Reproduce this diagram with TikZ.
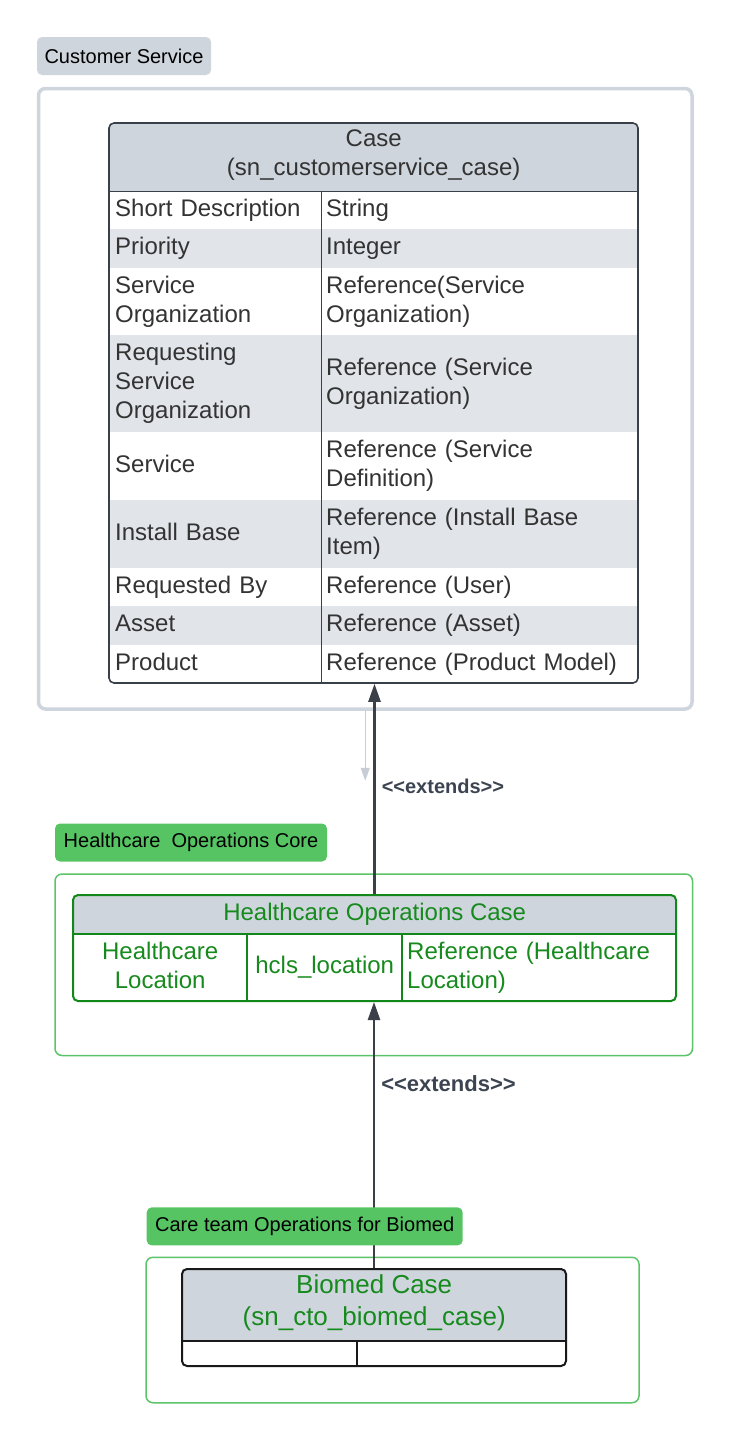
\documentclass[tikz,border=0pt]{standalone}
\usepackage{fontspec}
\setmainfont{Liberation Sans}
\usetikzlibrary{arrows.meta, calc}
\usepackage{xcolor}
\definecolor{csGray}{HTML}{CFD5DC}
\definecolor{hdrGray}{HTML}{CFD5DD}
\definecolor{rowGray}{HTML}{E1E4E9}
\definecolor{tblDark}{HTML}{3A4049}
\definecolor{textDark}{HTML}{333333}
\definecolor{coreGreen}{HTML}{57C464}
\definecolor{boxGreen}{HTML}{5CC468}
\definecolor{textGreen}{HTML}{178A1E}
\definecolor{tblGreen}{HTML}{12871A}
\definecolor{arrowGray}{HTML}{3A3F4A}
\definecolor{stereoGray}{HTML}{3D4451}
\definecolor{stubGray}{HTML}{C7CDD5}
\newcommand{\tabfont}{\fontsize{24}{29}\selectfont}
\newcommand{\lblfont}{\fontsize{20}{24}\selectfont}
\newcommand{\bigfont}{\fontsize{26}{32}\selectfont}

\begin{document}
\begin{tikzpicture}[
    x=1pt, y=-1pt,
    grouplabel/.style={
        rounded corners=5pt, minimum height=38pt, inner sep=0pt,
        font=\lblfont, text=black
    },
    groupbox/.style={draw, rounded corners=7pt, fill=white, inner sep=0pt},
    tblframe/.style={draw, rounded corners=5pt, line width=1.6pt, inner sep=0pt},
    strutted/.style={execute at begin node=\strut, execute at end node=\strut},
    hdrcell/.style={anchor=north west, fill=hdrGray, inner sep=0pt, align=center, font=\tabfont, strutted},
    cell/.style={anchor=north west, inner ysep=0pt, font=\tabfont, text=textDark, strutted},
    lcell/.style={cell, text width=200pt, inner xsep=6pt, align=left},
    rcell/.style={cell, text width=307pt, inner xsep=5pt, align=left},
    emptycell/.style={anchor=north west, inner sep=0pt},
    shaded/.style={fill=rowGray},
    extends/.style={arrowGray, line width=2.5pt, -{Triangle[length=18pt, width=12pt]}},
    stub/.style={stubGray, line width=1.2pt, -{Triangle[length=13pt, width=9pt]}},
    stereo/.style={anchor=west, inner xsep=6pt, font=\lblfont\bfseries, text=stereoGray},
]
\useasboundingbox (0,0) rectangle (733,1440);

% ============================================
% Customer Service
% ============================================
\node[grouplabel, fill=csGray, minimum width=174pt] (csLbl) at (124,56) {Customer Service};
\node[groupbox, draw=csGray, line width=3.5pt, minimum width=653.5pt, minimum height=620.5pt] (csBox) at (365.25,398.75) {};

\begin{scope}
\clip[rounded corners=5pt] (109,123) rectangle (638,683);
\node[hdrcell, text=textDark, minimum width=529pt, minimum height=68pt] (caseHdr) at (109,123) {Case\\(sn\_customerservice\_case)};
\node[lcell, minimum height=38pt] (sdK) at (109,191) {Short Description};
\node[rcell, minimum height=38pt] (sdV) at (321,191) {String};
\node[lcell, shaded, minimum height=39pt] (prK) at (109,229) {Priority};
\node[rcell, shaded, minimum height=39pt] (prV) at (321,229) {Integer};
\node[lcell, minimum height=67pt] (soK) at (109,268) {Service\\Organization};
\node[rcell, minimum height=67pt] (soV) at (321,268) {Reference(Service\\Organization)};
\node[lcell, shaded, minimum height=97pt] (rsoK) at (109,335) {Requesting\\Service\\Organization};
\node[rcell, shaded, minimum height=97pt] (rsoV) at (321,335) {Reference (Service\\Organization)};
\node[lcell, minimum height=68pt] (svK) at (109,432) {Service};
\node[rcell, minimum height=68pt] (svV) at (321,432) {Reference (Service\\Definition)};
\node[lcell, shaded, minimum height=68pt] (ibK) at (109,500) {Install Base};
\node[rcell, shaded, minimum height=68pt] (ibV) at (321,500) {Reference (Install Base\\Item)};
\node[lcell, minimum height=38pt] (rbK) at (109,568) {Requested By};
\node[rcell, minimum height=38pt] (rbV) at (321,568) {Reference (User)};
\node[lcell, shaded, minimum height=39pt] (asK) at (109,606) {Asset};
\node[rcell, shaded, minimum height=39pt] (asV) at (321,606) {Reference (Asset)};
\node[lcell, minimum height=38pt] (pdK) at (109,645) {Product};
\node[rcell, minimum height=38pt] (pdV) at (321,645) {Reference (Product Model)};
\end{scope}

\node[tblframe, draw=tblDark, minimum width=529pt, minimum height=560pt] (caseTbl) at (373.5,403) {};
\draw[tblDark, line width=1.6pt] (caseHdr.south west) -- (caseHdr.south east);
\draw[tblDark, line width=1.6pt] (sdK.north east) -- (pdK.south east);

% ============================================
% Healthcare Operations Core
% ============================================
\node[groupbox, draw=boxGreen, line width=1.5pt, minimum width=637.5pt, minimum height=181.5pt] (coreBox) at (373.75,964.75) {};
\node[grouplabel, fill=coreGreen, minimum width=272pt] (coreLbl) at (191,842.5) {Healthcare\ \ Operations Core};

\begin{scope}
\clip[rounded corners=5pt] (73,895) rectangle (676,1001);
\node[hdrcell, text=textGreen, minimum width=603pt, minimum height=39pt] (hocHdr) at (73,895) {Healthcare Operations Case};
\node[cell, text=textGreen, text width=174pt, inner xsep=0pt, align=center, minimum height=67pt] (hlK) at (73,934) {Healthcare\\Location};
\node[cell, text=textGreen, text width=155pt, inner xsep=0pt, align=center, minimum height=67pt] (hlN) at (247,934) {hcls\_location};
\node[cell, text=textGreen, text width=264pt, inner xsep=5pt, align=left, minimum height=67pt] (hlV) at (402,934) {Reference (Healthcare\\Location)};
\end{scope}

\node[tblframe, draw=tblGreen, line width=2pt, minimum width=603pt, minimum height=106pt] (hocTbl) at (374.5,948) {};
\draw[tblGreen, line width=2pt] (hocHdr.south west) -- (hocHdr.south east);
\draw[tblGreen, line width=2pt] (hlK.north east) -- (hlK.south east);
\draw[tblGreen, line width=2pt] (hlN.north east) -- (hlN.south east);

% ============================================
% Care team Operations for Biomed
% ============================================
\node[groupbox, draw=boxGreen, line width=1.5pt, minimum width=493pt, minimum height=145.5pt] (cteBox) at (392.5,1330) {};

\begin{scope}
\clip[rounded corners=5pt] (182,1269) rectangle (566,1366);
\node[hdrcell, text=textGreen, font=\bigfont, minimum width=384pt, minimum height=72pt] (bmHdr) at (182,1269) {Biomed Case\\(sn\_cto\_biomed\_case)};
\node[emptycell, minimum width=175pt, minimum height=25pt] (bmK) at (182,1341) {};
\node[emptycell, minimum width=209pt, minimum height=25pt] (bmV) at (357,1341) {};
\end{scope}

\node[tblframe, draw=black!90, line width=2pt, minimum width=384pt, minimum height=97pt] (bmTbl) at (374,1317.5) {};
\draw[black!90, line width=2pt] (bmHdr.south west) -- (bmHdr.south east);
\draw[black!90, line width=2pt] (bmK.north east) -- (bmK.south east);

% ============================================
% Connections
% ============================================
\coordinate (stubEnd) at ($(csBox.south)+(0,70)$);
\draw[stub] (csBox.south) -- (stubEnd);

\draw[extends] (hocTbl.north) -- node[stereo, pos=0.51] {<{}<extends>{}>} (hocTbl.north |- caseTbl.south);
\draw[extends] (bmTbl.north) -- node[stereo, pos=0.694, font=\fontsize{22}{26}\selectfont\bfseries] {<{}<extends>{}>} (bmTbl.north |- hocTbl.south);

\node[grouplabel, fill=coreGreen, minimum width=316pt] (cteLbl) at (304.7,1226.4) {Care team Operations for Biomed};

\end{tikzpicture}
\end{document}
